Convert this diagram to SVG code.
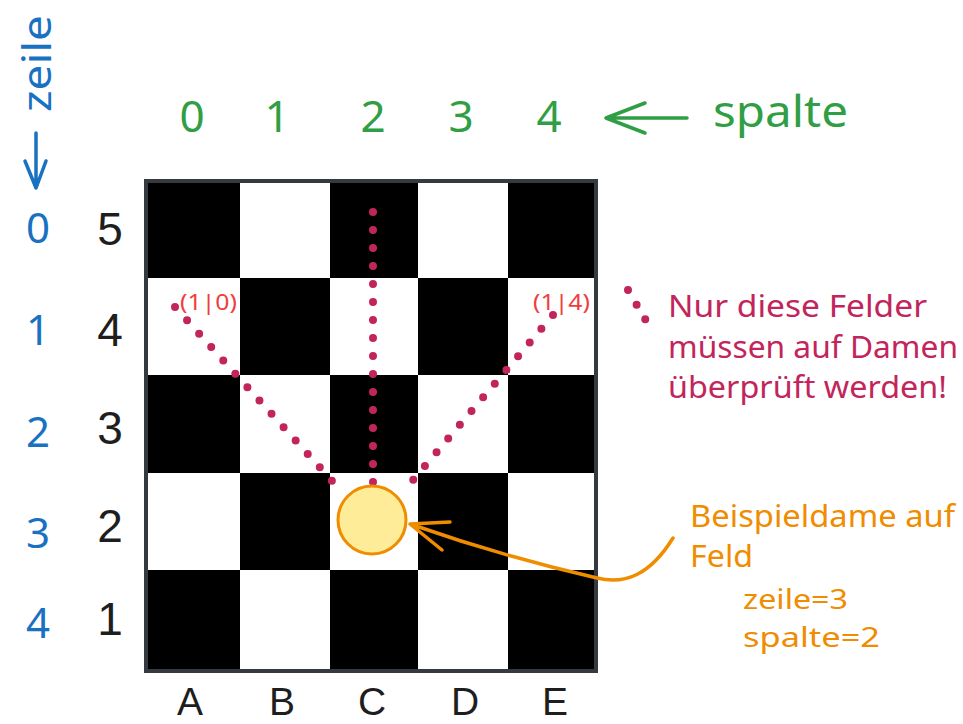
<svg xmlns="http://www.w3.org/2000/svg" width="963" height="724" viewBox="0 0 963 724">
<style>
.hand{font-family:"Noto Sans","DejaVu Sans",sans-serif;}
.green{fill:#2f9e44;font-size:44px;}
.blue{fill:#1971c2;font-size:42px;}
.blk{fill:#1e1e1e;font-family:"Liberation Sans",Arial,sans-serif;font-size:46px;}
.abc{fill:#1e1e1e;font-family:"Liberation Sans",Arial,sans-serif;font-size:39px;}
.pink{fill:#c2255c;font-size:31px;}
.orange{fill:#f08c00;font-size:31px;}
.orange.sm{font-size:28px;}
.red{fill:#f03e3e;font-size:22px;}
.dark{fill:#000;}
.dots{stroke:#c2255c;stroke-width:8;stroke-linecap:round;stroke-dasharray:0 18;fill:none;}
.ln{fill:none;stroke-width:3.5;stroke-linecap:round;stroke-linejoin:round;}
.g{stroke:#2f9e44;}
.b{stroke:#1971c2;}
.o{stroke:#f08c00;}
</style>
<rect width="963" height="724" fill="#fff"/>
<g id="board">
<rect x="147" y="182" width="448" height="488" fill="#fff"/>
<rect class="dark" x="147" y="182" width="93" height="96"/>
<rect class="dark" x="330" y="182" width="88" height="96"/>
<rect class="dark" x="508" y="182" width="87" height="96"/>
<rect class="dark" x="240" y="278" width="90" height="97"/>
<rect class="dark" x="418" y="278" width="90" height="97"/>
<rect class="dark" x="147" y="375" width="93" height="98"/>
<rect class="dark" x="330" y="375" width="88" height="98"/>
<rect class="dark" x="508" y="375" width="87" height="98"/>
<rect class="dark" x="240" y="473" width="90" height="97"/>
<rect class="dark" x="418" y="473" width="90" height="97"/>
<rect class="dark" x="147" y="570" width="93" height="100"/>
<rect class="dark" x="330" y="570" width="88" height="100"/>
<rect class="dark" x="508" y="570" width="87" height="100"/>
<rect x="146" y="181" width="450" height="490" fill="none" stroke="#343a40" stroke-width="4"/>
</g>
<g id="col-labels" class="hand">
<text class="green" x="192" y="132" text-anchor="middle">0</text>
<text class="green" x="277" y="132" text-anchor="middle">1</text>
<text class="green" x="373" y="132" text-anchor="middle">2</text>
<text class="green" x="461" y="132" text-anchor="middle">3</text>
<text class="green" x="549" y="132" text-anchor="middle">4</text>
<text class="green" x="713" y="127" textLength="135" lengthAdjust="spacingAndGlyphs">spalte</text>
</g>
<g id="row-labels" class="hand">
<text class="blue" x="38" y="243" text-anchor="middle">0</text>
<text class="blue" x="38" y="345" text-anchor="middle">1</text>
<text class="blue" x="38" y="447" text-anchor="middle">2</text>
<text class="blue" x="38" y="548" text-anchor="middle">3</text>
<text class="blue" x="38" y="638" text-anchor="middle">4</text>
<text class="blue" transform="translate(51,112) rotate(-90)" style="font-size:40px" textLength="97" lengthAdjust="spacingAndGlyphs">zeile</text>
</g>
<g id="chess-labels">
<text class="blk" x="110" y="245" text-anchor="middle">5</text>
<text class="blk" x="110" y="346" text-anchor="middle">4</text>
<text class="blk" x="110" y="444" text-anchor="middle">3</text>
<text class="blk" x="110" y="542" text-anchor="middle">2</text>
<text class="blk" x="110" y="635" text-anchor="middle">1</text>
<text class="abc" x="190" y="715" text-anchor="middle">A</text>
<text class="abc" x="282" y="715" text-anchor="middle">B</text>
<text class="abc" x="372" y="715" text-anchor="middle">C</text>
<text class="abc" x="465" y="715" text-anchor="middle">D</text>
<text class="abc" x="555" y="715" text-anchor="middle">E</text>
</g>
<g id="field-labels" class="hand">
<text class="red" x="180" y="310" textLength="57" lengthAdjust="spacingAndGlyphs">(1|0)</text>
<text class="red" x="533" y="310" textLength="57" lengthAdjust="spacingAndGlyphs">(1|4)</text>
</g>
<g id="connectors">
<path class="dots" d="M373 212 L373 487"/>
<path class="dots" d="M175 307 L343 493"/>
<path class="dots" d="M553 315 L402 493"/>
<path class="dots" d="M628 290 L648 324" style="stroke-dasharray:0 17"/>
<path class="ln g" d="M687 118 L606 118 M645 103 L606 118 L645 133"/>
<path class="ln b" d="M36 133 L36 188 M25 161 L36 188 L46 161"/>
<path class="ln o" d="M673 538 C 650 575 625 585 597 578 C 540 565 470 545 410 524 M450 522 L410 524 L442 550"/>
</g>
<g id="queen">
<circle cx="372" cy="520" r="34" fill="#ffec99" stroke="#f08c00" stroke-width="3"/>
</g>
<g id="legend" class="hand">
<text class="pink" x="668" y="317" textLength="259" lengthAdjust="spacingAndGlyphs">Nur diese Felder</text>
<text class="pink" x="668" y="358" textLength="290" lengthAdjust="spacingAndGlyphs">müssen auf Damen</text>
<text class="pink" x="668" y="398" textLength="279" lengthAdjust="spacingAndGlyphs">überprüft werden!</text>
</g>
<g id="queen-note" class="hand">
<text class="orange" x="690" y="527" textLength="265" lengthAdjust="spacingAndGlyphs">Beispieldame auf</text>
<text class="orange" x="690" y="567" textLength="63" lengthAdjust="spacingAndGlyphs">Feld</text>
<text class="orange sm" x="743" y="609" textLength="105" lengthAdjust="spacingAndGlyphs">zeile=3</text>
<text class="orange sm" x="743" y="647" textLength="137" lengthAdjust="spacingAndGlyphs">spalte=2</text>
</g>
</svg>
